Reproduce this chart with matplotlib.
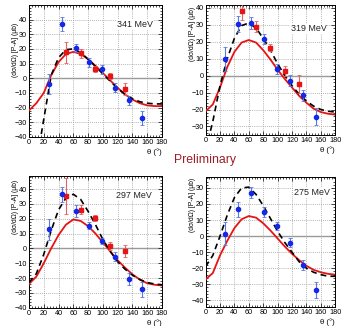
import matplotlib
matplotlib.use("Agg")
import matplotlib.pyplot as plt
from matplotlib.ticker import MultipleLocator

plt.rcParams['font.family'] = ['Liberation Sans', 'DejaVu Sans']

# ---------------- data ----------------
theta_curve = [0, 10, 20, 30, 40, 50, 60, 70, 80, 90, 100, 110, 120, 130, 140, 150, 160, 170, 180]

red_341 = [-22, -17, -10, 2, 11, 16.5, 18, 16.5, 13, 8.5, 3.5, -1.5, -6.5, -11, -14.5, -17, -18.5, -19, -19]
black_341 = [-85, -58, -28, 2, 14, 19.5, 20, 17.5, 13, 8, 3, -2, -7, -11, -14, -16, -17, -17.5, -17.5]

red_319 = [-21, -17, -7, 5, 14, 19.5, 21, 19.5, 15, 9.5, 3.5, -2, -7, -12, -16, -19.5, -21.5, -22.5, -23]
black_319 = [-44, -27, -6, 10, 22, 29.5, 31, 28, 22, 15, 7, 0, -6, -11, -15, -18, -20, -21, -21.5]

red_297 = [-24, -19, -10, 0, 9, 16, 19.5, 18.5, 15, 10, 4, -2, -8, -13, -17.5, -21, -23.5, -24.5, -25]
black_297 = [-23, -17, -4, 12, 26, 34, 36.5, 33, 25, 16, 6, -2, -9, -14, -18, -21, -23, -24, -24.5]

red_275 = [-27, -23, -12, -3, 5, 10.5, 12.5, 11.5, 8, 3.5, -1.5, -6.5, -11, -15, -18.5, -21, -22.5, -23.5, -24]
black_275 = [-19, -12, 0, 13, 24, 30, 30.5, 26, 19, 11, 3, -4, -10, -16, -20, -22.5, -24, -25, -25]

blue_theta = [27, 45, 63, 81, 99, 117, 135, 153]
red_theta = [50, 70, 90, 110, 130]

blue_341 = [-4, 37, 20.6, 10.8, 6, -6.5, -15, -27]
blue_341_err = [7, 4.5, 3, 3, 3, 3, 3, 5]
redpts_341 = [17.6, 17, 6.5, 1.5, -7.5]
redpts_341_err = [7, 3, 2, 2, 4]

blue_319 = [9.6, 30.4, 31.2, 21.5, 3.9, -2.9, -11.7, -24.2]
blue_319_err = [7, 4.5, 3.5, 3, 3, 3, 3, 5]
redpts_319 = [38, 28.9, 16.4, 2.7, -4.9]
redpts_319_err = [5, 3, 2, 3, 5.5]

blue_297 = [13, 36.6, 25.3, 15.4, 4.8, -5.5, -20.4, -27.6]
blue_297_err = [7, 5, 4, 2.5, 2, 3, 4, 5]
redpts_297 = [35.5, 26, 20.2, 1.7, -1.5]
redpts_297_err = [12, 3, 2, 2.5, 4]

blue_275 = [1.5, 16.7, 27.1, 15, 6, -4, -17.8, -33.3]
blue_275_err = [7, 4.5, 3.5, 3, 2.5, 3, 3, 5]

energy_labels = ["341 MeV", "319 MeV", "297 MeV", "275 MeV"]
ylims = [(-40, 50), (-35, 41.5), (-40, 49), (-44, 37)]
yticks = [list(range(-40, 50, 10)), list(range(-30, 50, 10)),
          list(range(-40, 50, 10)), list(range(-40, 40, 10))]
x_ticks = [0, 20, 40, 60, 80, 100, 120, 140, 160, 180]

panels = [
    (red_341, black_341, blue_341, blue_341_err, redpts_341, redpts_341_err),
    (red_319, black_319, blue_319, blue_319_err, redpts_319, redpts_319_err),
    (red_297, black_297, blue_297, blue_297_err, redpts_297, redpts_297_err),
    (red_275, black_275, blue_275, blue_275_err, None, None),
]

rects = [
    [0.085, 0.580, 0.390, 0.405],
    [0.603, 0.586, 0.380, 0.398],
    [0.085, 0.056, 0.390, 0.405],
    [0.603, 0.059, 0.380, 0.399],
]
label_pos = [(0.93, 0.85), (0.935, 0.82), (0.925, 0.85), (0.96, 0.875)]
ylabel_top = [0.86, 0.99, 0.965, 0.99]

BLUE = "#1428e6"
BLUE_ERR = "#5a78e0"
RED = "#e61414"
RED_ERR = "#e86060"

fig = plt.figure(figsize=(3.41, 3.26), dpi=100)

for i, (rect, pdata) in enumerate(zip(rects, panels)):
    rc, bc, bp, bpe, rp, rpe = pdata
    ax = fig.add_axes(rect)
    ax.set_xlim(0, 180)
    ax.set_ylim(*ylims[i])
    ax.set_xticks(x_ticks)
    ax.set_yticks(yticks[i])
    ax.xaxis.set_minor_locator(MultipleLocator(4))
    ax.yaxis.set_minor_locator(MultipleLocator(2))
    ax.grid(True, which="major", color="#9a9a9a", linestyle=(0, (1, 1.5)), linewidth=0.6)
    ax.axhline(0, color="#9a9a9a", linewidth=1.0, zorder=1)
    ax.tick_params(which="both", direction="in", top=True, right=True, labelsize=5.2, pad=1.5)
    ax.tick_params(which="major", length=3, width=0.5)
    ax.tick_params(which="minor", length=1.5, width=0.5)
    for s in ax.spines.values():
        s.set_linewidth(0.7)

    ax.plot(theta_curve, rc, color=RED, linewidth=1.3, zorder=3)
    ax.plot(theta_curve, bc, color="black", linewidth=1.2, linestyle=(0, (3.5, 2.5)), zorder=3)

    ax.errorbar(blue_theta, bp, yerr=bpe, fmt="o", color=BLUE, ecolor=BLUE_ERR,
                markersize=3.0, elinewidth=0.8, capsize=1.2, capthick=0.6, zorder=5)
    if rp is not None:
        ax.errorbar(red_theta, rp, yerr=rpe, fmt="s", color=RED, ecolor=RED_ERR,
                    markersize=3.0, elinewidth=0.8, capsize=1.2, capthick=0.6, zorder=4)

    lx, ly = label_pos[i]
    ax.text(lx, ly, energy_labels[i], transform=ax.transAxes, ha="right", va="center",
            fontsize=6.4, color="#222222", zorder=6,
            bbox=dict(facecolor="white", edgecolor="none", pad=0.5))
    ax.set_ylabel("(dσ/dΩ) [P-A] (μb)", fontsize=4.9)
    ax.yaxis.set_label_coords(-0.098, ylabel_top[i])
    ax.yaxis.label.set_va("center")
    ax.yaxis.label.set_ha("right")
    ax.set_xlabel("θ (°)", fontsize=5.6)
    ax.xaxis.set_label_coords(1.0, -0.085)
    ax.xaxis.label.set_ha("right")
    ax.xaxis.label.set_va("top")

fig.text(0.601, 0.509, "Preliminary", ha="center", va="center", fontsize=8.8, color="#9a1e2a")

fig.savefig("out.png", dpi=100)
